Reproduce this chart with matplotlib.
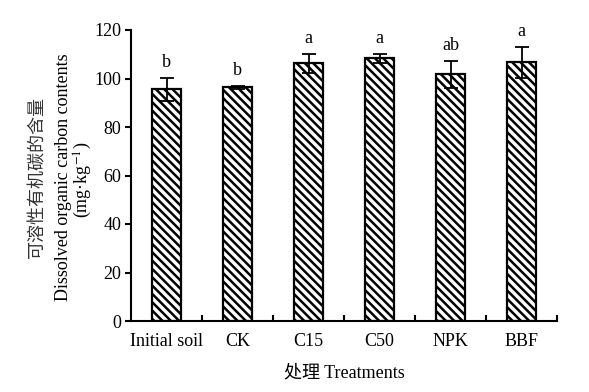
import matplotlib.pyplot as plt
from matplotlib.ticker import FixedLocator

plt.rcParams['font.family'] = ['Liberation Serif', 'Noto Sans CJK SC']
plt.rcParams['hatch.linewidth'] = 1.8
plt.rcParams['mathtext.fontset'] = 'stix'

treatments = ['Initial soil', 'CK', 'C15', 'C50', 'NPK', 'BBF']
doc = [95.5, 96.3, 106.3, 108.3, 101.7, 106.7]
err = [4.8, 0.5, 4.0, 2.0, 5.6, 6.4]
letters = ['b', 'b', 'a', 'a', 'ab', 'a']

fig = plt.figure(figsize=(5.89, 3.92), dpi=100)
ax = fig.add_axes([131 / 589, 1 - 321 / 392, 426 / 589, 291 / 392])

x = list(range(len(treatments)))
ax.bar(x, doc, width=0.4, color='white', edgecolor='black', linewidth=1.6,
       hatch='\\\\\\\\', zorder=2)
ax.errorbar(x, doc, yerr=err, fmt='none', ecolor='black', elinewidth=1.3,
            capsize=5, capthick=1.3, zorder=3)

for i in x:
    ax.annotate(letters[i], (i, doc[i] + err[i]), xytext=(0, 5),
                textcoords='offset points', ha='center', va='bottom', fontsize=13)

ax.set_xlim(-0.5, len(treatments) - 0.5)
ax.set_ylim(0, 120)
ax.set_yticks(range(0, 121, 20))
ax.set_xticks(x)
ax.set_xticklabels(treatments, fontsize=13)
ax.tick_params(axis='y', labelsize=13, direction='out', length=4, width=1.5, pad=3)
ax.tick_params(axis='x', which='major', length=0, pad=9)
ax.xaxis.set_minor_locator(FixedLocator([i + 0.5 for i in x]))
ax.tick_params(axis='x', which='minor', direction='in', length=4, width=1.5)

for s in ['top', 'right']:
    ax.spines[s].set_visible(False)
for s in ['left', 'bottom']:
    ax.spines[s].set_linewidth(1.5)

ax.set_xlabel('处理 Treatments', fontsize=13, labelpad=10)
fig.text(38 / 589, 1 - 177 / 392, '可溶性有机碳的含量', rotation=90,
         ha='center', va='center', fontsize=13, color='#333333')
fig.text(63 / 589, 1 - 177 / 392, 'Dissolved organic carbon contents', rotation=90,
         ha='center', va='center', fontsize=13)
fig.text(83 / 589, 1 - 180 / 392, '(mg·kg$^{-1}$)', rotation=90,
         ha='center', va='center', fontsize=13)

fig.savefig('out.png', dpi=100)
